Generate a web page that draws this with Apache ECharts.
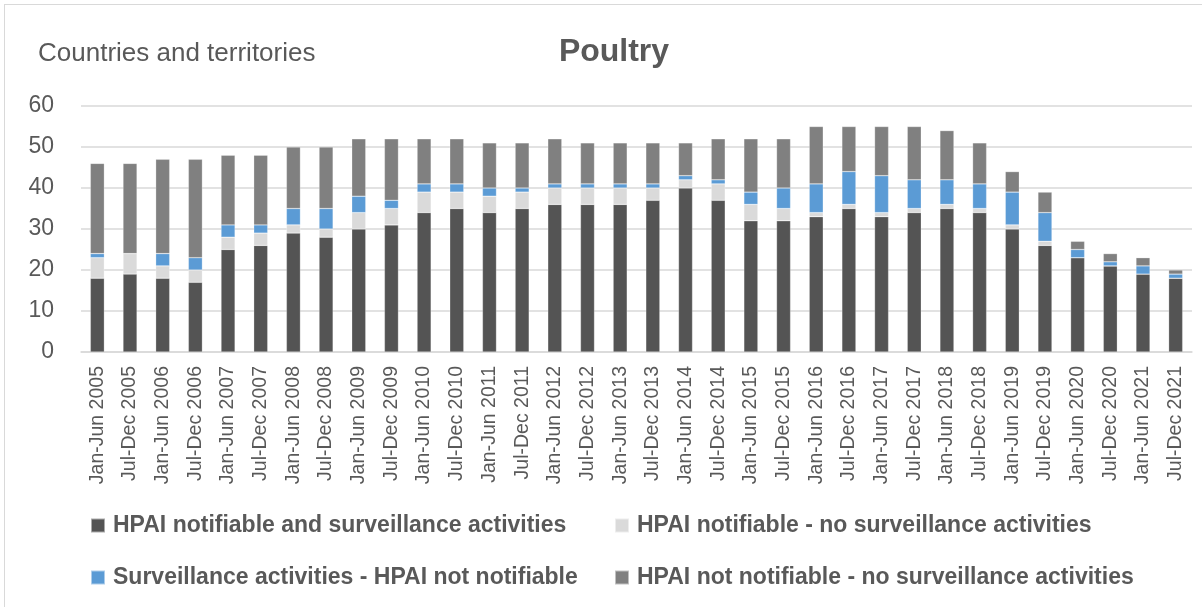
<!DOCTYPE html>
<html>
<head>
<meta charset="utf-8">
<script src="https://cdn.jsdelivr.net/npm/echarts@6/dist/echarts.min.js"></script>
<style>
html, body { margin: 0; padding: 0; background: #fff; }
#chart { position: absolute; left: 4px; top: 4px; width: 1198px; height: 603px; box-sizing: border-box; border-left: 1px solid #d9d9d9; border-top: 1px solid #d9d9d9; }
</style>
</head>
<body>
<div id="chart"></div>
<script>
// 半年期
var periods = ['Jan-Jun 2005','Jul-Dec 2005','Jan-Jun 2006','Jul-Dec 2006','Jan-Jun 2007','Jul-Dec 2007',
    'Jan-Jun 2008','Jul-Dec 2008','Jan-Jun 2009','Jul-Dec 2009','Jan-Jun 2010','Jul-Dec 2010',
    'Jan-Jun 2011','Jul-Dec 2011','Jan-Jun 2012','Jul-Dec 2012','Jan-Jun 2013','Jul-Dec 2013',
    'Jan-Jun 2014','Jul-Dec 2014','Jan-Jun 2015','Jul-Dec 2015','Jan-Jun 2016','Jul-Dec 2016',
    'Jan-Jun 2017','Jul-Dec 2017','Jan-Jun 2018','Jul-Dec 2018','Jan-Jun 2019','Jul-Dec 2019',
    'Jan-Jun 2020','Jul-Dec 2020','Jan-Jun 2021','Jul-Dec 2021'];

var notifSurv    = [18,19,18,17,25,26,29,28,30,31,34,35,34,35,36,36,36,37,40,37,32,32,33,35,33,34,35,34,30,26,23,21,19,18];
var notifNoSurv  = [5,5,3,3,3,3,2,2,4,4,5,4,4,4,4,4,4,3,2,4,4,3,1,1,1,1,1,1,1,1,0,0,0,0];
var survNotNotif = [1,0,3,3,3,2,4,5,4,2,2,2,2,1,1,1,1,1,1,1,3,5,7,8,9,7,6,6,8,7,2,1,2,1];
var noneAtAll    = [22,22,23,24,17,17,15,15,14,15,11,11,11,11,11,10,10,10,8,10,13,12,14,11,12,13,12,10,5,5,2,2,2,1];

var yTicks = [0, 10, 20, 30, 40, 50, 60];

var seriesNames = [
    'HPAI notifiable and surveillance activities',
    'HPAI notifiable - no surveillance activities',
    'Surveillance activities - HPAI not notifiable',
    'HPAI not notifiable - no surveillance activities'
];

;(function(){
    var chart = echarts.init(document.getElementById('chart'));
    var font = '"Liberation Sans", Arial, sans-serif';

    function bar(name, data, color) {
        return {
            name: name,
            type: 'bar',
            stack: 'total',
            barWidth: 14,
            data: data,
            itemStyle: { color: color, borderColor: 'rgba(255,255,255,0.5)', borderWidth: 0.5 }
        };
    }

    var legendText = { fontFamily: font, fontSize: 23, fontWeight: 'bold', color: '#595959', padding: [0, 0, 0, 3] };

    var option = {
        animation: false,
        textStyle: { fontFamily: font },
        title: [{
            text: 'Poultry',
            left: 604,
            top: 26,
            textAlign: 'center',
            textStyle: { fontFamily: font, fontSize: 32, fontWeight: 'bold', color: '#595959' }
        }, {
            text: 'Countries and territories',
            left: 28,
            top: 31,
            textStyle: { fontFamily: font, fontSize: 26, fontWeight: 'normal', color: '#595959' }
        }],
        legend: [{
            data: [seriesNames[0], seriesNames[2]],
            orient: 'vertical',
            left: 80,
            top: 504,
            itemGap: 29,
            itemWidth: 14,
            itemHeight: 14,
            icon: 'rect',
            textStyle: legendText
        }, {
            data: [seriesNames[1], seriesNames[3]],
            orient: 'vertical',
            left: 604,
            top: 504,
            itemGap: 29,
            itemWidth: 14,
            itemHeight: 14,
            icon: 'rect',
            textStyle: legendText
        }],
        grid: {
            left: 76,
            right: 10,
            top: 101,
            bottom: 255
        },
        xAxis: {
            type: 'category',
            data: periods,
            axisLine: { lineStyle: { color: '#d9d9d9', width: 1.5 } },
            axisTick: { show: false },
            axisLabel: {
                rotate: 90,
                interval: 0,
                margin: 14,
                fontFamily: font,
                fontSize: 19.5,
                color: '#595959'
            }
        },
        yAxis: {
            type: 'value',
            min: yTicks[0],
            max: yTicks[yTicks.length - 1],
            interval: 10,
            axisLine: { show: false },
            axisTick: { show: false },
            splitLine: { lineStyle: { color: '#d9d9d9', width: 1.5 } },
            axisLabel: {
                margin: 27,
                fontFamily: font,
                fontSize: 23,
                color: '#595959'
            }
        },
        series: [
            bar(seriesNames[0], notifSurv, '#545454'),
            bar(seriesNames[1], notifNoSurv, '#dadada'),
            bar(seriesNames[2], survNotNotif, '#5b9bd5'),
            bar(seriesNames[3], noneAtAll, '#808080')
        ]
    };

    chart.setOption(option);
})()
</script>
</body>
</html>
